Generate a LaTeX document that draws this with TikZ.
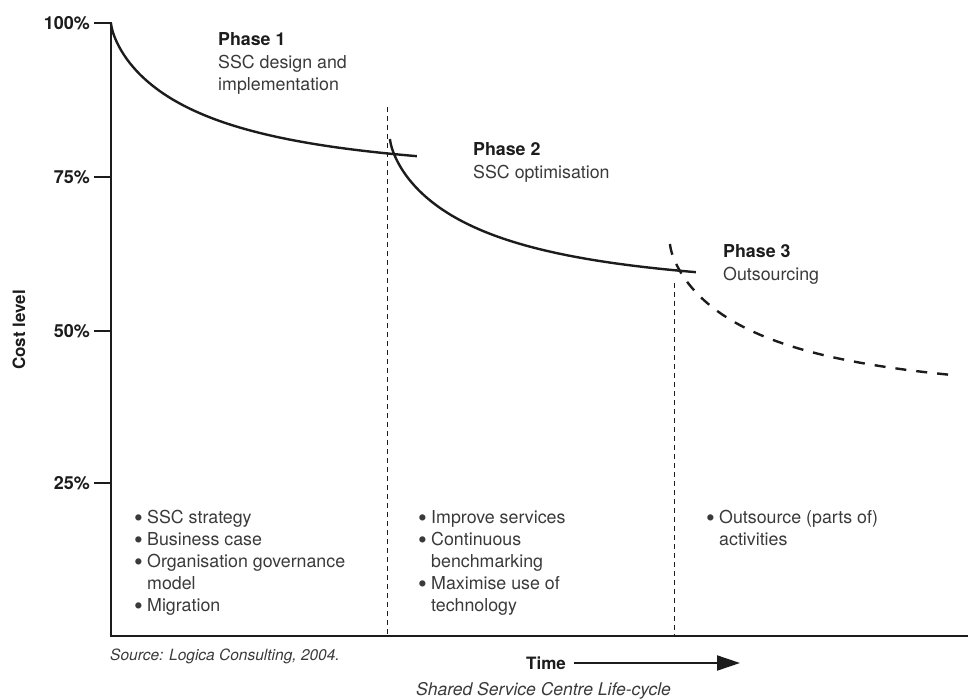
\documentclass[tikz,border=0pt]{standalone}
\usepackage{fontspec}
\setmainfont{TeX Gyre Heros}
\usetikzlibrary{arrows.meta}
\definecolor{ink}{HTML}{1C1C1C}
\definecolor{txt}{HTML}{3A3A3A}
\begin{document}
\begin{tikzpicture}[x=1pt,y=-1pt,
  axisline/.style={line width=2.6pt, draw=ink, line join=miter},
  curveline/.style={line width=2.4pt, draw=ink},
  divider/.style={line width=1pt, draw=ink, dash pattern=on 5pt off 4pt},
  ticklabel/.style={anchor=east, inner sep=0pt, text=ink, font=\fontsize{18}{20}\selectfont\bfseries},
  phasetitle/.style={anchor=base west, inner sep=0pt, text=ink, font=\fontsize{17.8}{22}\selectfont\bfseries},
  body/.style={anchor=base west, inner sep=0pt, text=txt, font=\fontsize{17.8}{22}\selectfont},
  note/.style={anchor=base west, inner sep=0pt, text=txt, font=\fontsize{15.5}{18}\selectfont\itshape}]
\useasboundingbox (0,0) rectangle (968,700);

% axes
\coordinate (top) at (111,23);
\coordinate (origin) at (111,636);
\coordinate (xend) at (968,636);
\coordinate (t100) at (94,23);
\draw[axisline] (t100) -- (top) -- (origin) -- (xend);
\foreach \n/\yy in {75/177, 50/331, 25/483}{
  \coordinate (t\n) at (94,\yy);
  \coordinate (a\n) at (111,\yy);
  \draw[axisline] (t\n) -- (a\n);
}
\node[ticklabel] (l100) at (90,23) {100\%};
\node[ticklabel] (l75) at (90,177) {75\%};
\node[ticklabel] (l50) at (90,331) {50\%};
\node[ticklabel] (l25) at (90,483) {25\%};
\node[rotate=90, inner sep=0pt, text=ink, font=\fontsize{17}{20}\selectfont\bfseries] (ylabel) at (19,330) {Cost level};

% phase dividers
\coordinate (d1top) at (387,107);
\coordinate (d1bot) at (387,636);
\coordinate (d2top) at (674,283);
\coordinate (d2bot) at (674,636);
\draw[divider] (d1top) -- (d1bot);
\draw[divider] (d2top) -- (d2bot);

% cost curves
\draw[curveline] plot[domain=0.01:17.49, samples=90, variable=\v]
  ({111+\v*\v}, {23+150*(1-exp(-(\v/10)^1.4))});
\begin{scope}[shift={(279,116)}]
\draw[curveline] plot[domain=0.01:17.49, samples=90, variable=\v]
  ({111+\v*\v}, {23+150*(1-exp(-(\v/10)^1.4))});
\end{scope}
\begin{scope}[shift={(559,221)}]
\draw[curveline, dash pattern=on 11pt off 10pt] plot[domain=0.01:16.88, samples=90, variable=\v]
  ({111+\v*\v}, {23+150*(1-exp(-(\v/10)^1.4))});
\end{scope}

% phase labels
\node[phasetitle] (p1) at (218,46) {Phase 1};
\node[body] (p1a) at (218,68.5) {SSC design and};
\node[body] (p1b) at (218,91) {implementation};
\node[phasetitle] (p2) at (473,156) {Phase 2};
\node[body] (p2a) at (473,178.5) {SSC optimisation};
\node[phasetitle] (p3) at (723,258) {Phase 3};
\node[body] (p3a) at (723,280.5) {Outsourcing};

% bullet lists
\newcommand{\bul}{\makebox[13pt][l]{\smash{\raisebox{-3.2pt}{\scalebox{1.4}{•}}}}}
\newcommand{\cont}{\hspace*{13pt}}
\node[body] (b1a) at (134,523) {\bul SSC strategy};
\node[body] (b1b) at (134,545) {\bul Business case};
\node[body] (b1c) at (134,567) {\bul Organisation governance};
\node[body] (b1d) at (134,589) {\cont model};
\node[body] (b1e) at (134,611) {\bul Migration};

\node[body] (b2a) at (418,523) {\bul Improve services};
\node[body] (b2b) at (418,545) {\bul Continuous};
\node[body] (b2c) at (418,567) {\cont benchmarking};
\node[body] (b2d) at (418,589) {\bul Maximise use of};
\node[body] (b2e) at (418,611) {\cont technology};

\node[body] (b3a) at (706,523) {\bul Outsource (parts of)};
\node[body] (b3b) at (706,545) {\cont activities};

% footer
\node[note] (src) at (110,660) {Source: Logica Consulting, 2004.};
\node[anchor=west, inner sep=0pt, text=ink, font=\fontsize{17}{20}\selectfont\bfseries] (timelbl) at (526,663) {Time};
\coordinate (timeend) at (740,663);
\draw[line width=2pt, draw=ink, -{Triangle[length=23pt,width=15pt]}] ([xshift=8pt]timelbl.east) -- (timeend);
\node[anchor=base west, inner sep=0pt, text=txt, font=\fontsize{17.5}{20}\selectfont\itshape] (caption) at (416,695) {Shared Service Centre Life-cycle};
\end{tikzpicture}
\end{document}
